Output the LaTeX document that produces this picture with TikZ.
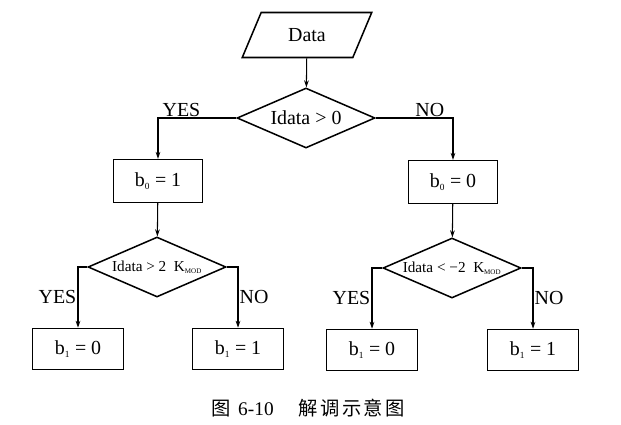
\documentclass[tikz,border=0pt]{standalone}
\usepackage{fontspec}
\setmainfont{Liberation Serif}
\newfontfamily\cjk{Noto Sans CJK SC}
\usetikzlibrary{shapes.geometric,arrows.meta}

\newcommand{\idx}[1]{\textsubscript{\fontsize{8}{8}\selectfont #1}}

\begin{document}
\begin{tikzpicture}[x=0.03cm, y=-0.03cm,
    box/.style={draw, line width=1.3pt, minimum width=2.66cm, minimum height=1.28cm,
      inner sep=0pt, font=\fontsize{17}{19}\selectfont},
    leaf/.style={box, minimum width=2.73cm, minimum height=1.23cm},
    test/.style={draw, diamond, line width=1.3pt, aspect=2.3, inner sep=0pt,
      minimum width=4.14cm, minimum height=1.8cm, font=\fontsize{17}{19}\selectfont},
    subtest/.style={test, font=\fontsize{13}{15}\selectfont},
    flow/.style={line width=0.9pt, -{Stealth[length=6pt,width=4pt]}},
    ans/.style={font=\fontsize{17}{19}\selectfont, inner sep=1pt}]

      \useasboundingbox (0,0) rectangle (621,425);

      \node [draw, trapezium, trapezium left angle=66, trapezium right angle=114,
        trapezium stretches=true, line width=1.3pt, minimum width=3.9cm,
        minimum height=1.35cm, font=\fontsize{17}{19}\selectfont] (data) at (307,35) {Data};

      \node [test] (test0) at (306,118) {Idata > 0};

      \node [box] (bzero1) at (158,181) {b\idx{0} = 1};
      \node [box] (bzero0) at (453,182) {b\idx{0} = 0};

      \node [subtest] (testpos) at (157,267)
        {Idata > 2 \ K\textsubscript{\fontsize{6}{6}\selectfont MOD}};
      \node [subtest] (testneg) at (452,268)
        {Idata < −2 \ K\textsubscript{\fontsize{6}{6}\selectfont MOD}};

      \node [leaf] (bone0a) at (78,349) {b\idx{1} = 0};
      \node [leaf] (bone1a) at (238,349) {b\idx{1} = 1};
      \node [leaf] (bone0b) at (372,350) {b\idx{1} = 0};
      \node [leaf] (bone1b) at (533,350) {b\idx{1} = 1};

      \draw [flow] (data) -- (test0) ;

      \draw [flow] (test0.west) -| node [ans, above, pos=0.35] {YES} (bzero1) ;
      \draw [flow] (test0.east) -| node [ans, above, pos=0.35] {NO} (bzero0) ;

      \draw [flow] (bzero1) -- (testpos) ;
      \draw [flow] (bzero0) -- (testneg) ;

      \draw [flow] (testpos.west) -| node [ans, left, pos=0.75] {YES} (bone0a) ;
      \draw [flow] (testpos.east) -| node [ans, right, pos=0.75] {NO} (bone1a) ;

      \draw [flow] (testneg.west) -| node [ans, left, pos=0.75] {YES} (bone0b) ;
      \draw [flow] (testneg.east) -| node [ans, right, pos=0.75] {NO} (bone1b) ;

      \node [font=\fontsize{16.5}{18}\selectfont] (caption) at (308,408)
        {{\cjk 图}\hspace{0.4em}6-10\hspace{1.3em}{\cjk 解\hspace{2pt}调\hspace{2pt}示\hspace{2pt}意\hspace{2pt}图}};
    \end{tikzpicture}
\end{document}
